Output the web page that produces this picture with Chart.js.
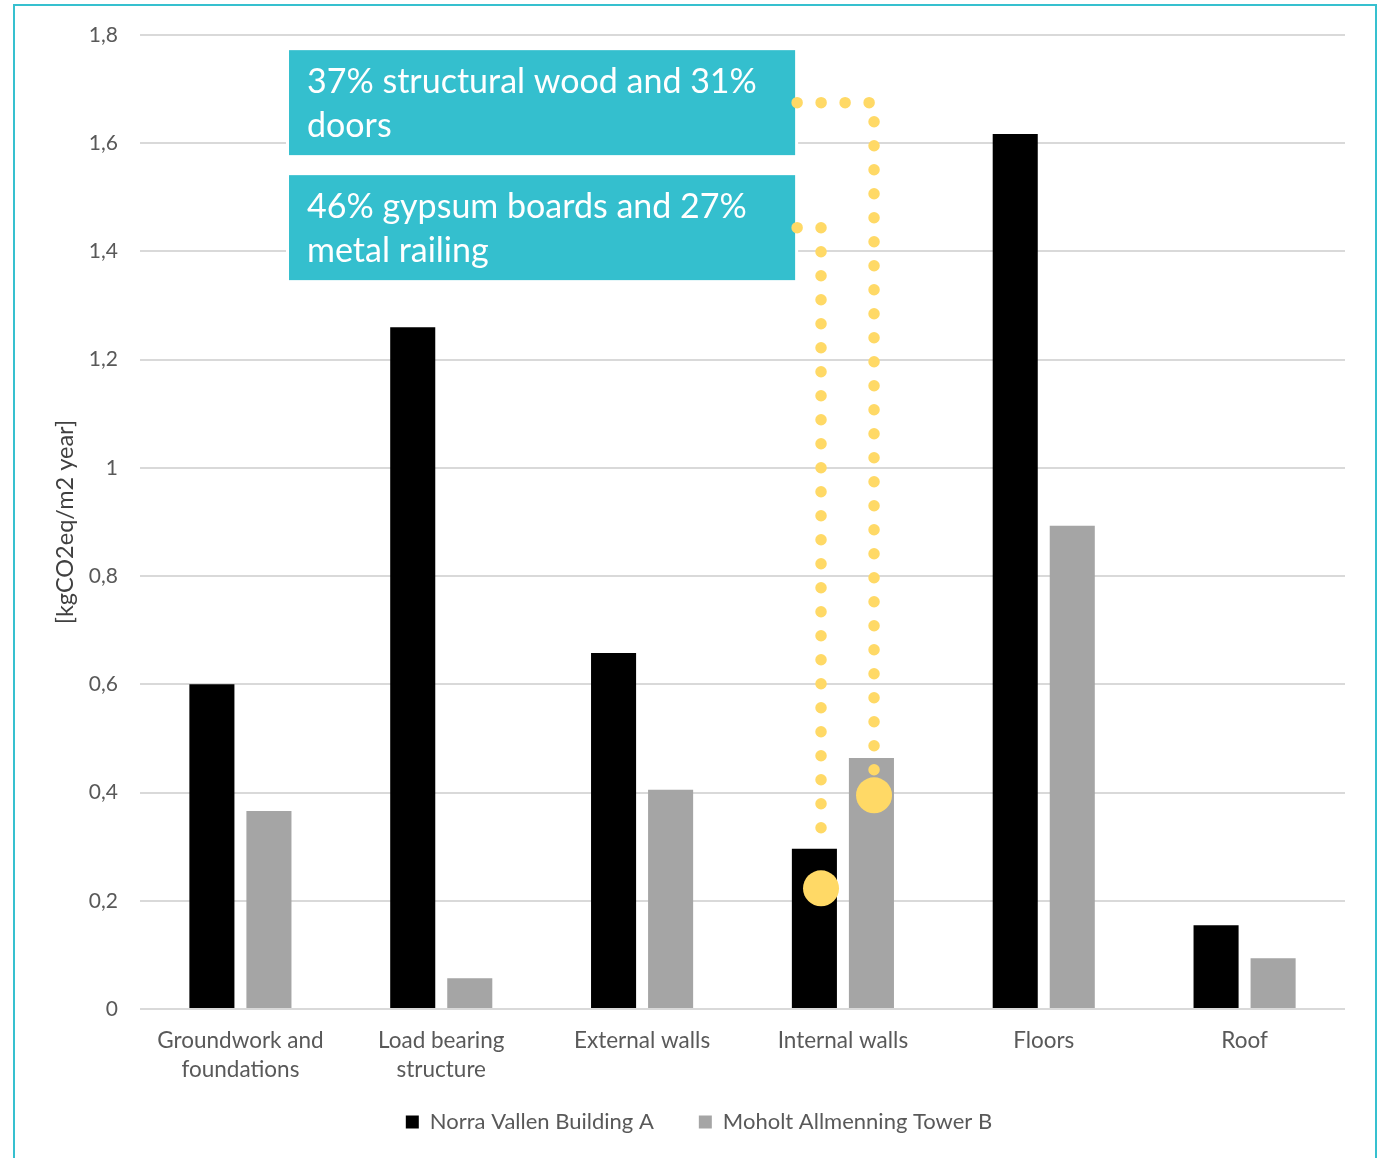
<!DOCTYPE html>
<html>
<head>
<meta charset="utf-8">
<script src="https://cdn.jsdelivr.net/npm/chart.js@4.4.0/dist/chart.umd.min.js"></script>
<style>
  html, body { margin: 0; padding: 0; background: #fff; }
  #wrap { position: relative; width: 1383px; height: 1158px; overflow: hidden; }
  #frame { position: absolute; left: 13px; top: 4px; width: 1360px; height: 1200px;
           border: 2px solid #36c0cf; border-bottom: none; pointer-events: none; }
</style>
</head>
<body>
<div id="wrap">
  <canvas id="chart" width="1383" height="1158"></canvas>
  <div id="frame"></div>
</div>
<script>
const categories = [["Groundwork and", "foundations"], ["Load bearing", "structure"], "External walls", "Internal walls", "Floors", "Roof"];
const norraVallen = [0.60, 1.26, 0.658, 0.296, 1.617, 0.155];
const moholtTower = [0.366, 0.057, 0.405, 0.464, 0.893, 0.094];
const yTickLabels = ["0", "0,2", "0,4", "0,6", "0,8", "1", "1,2", "1,4", "1,6", "1,8"];

// callout boxes, in category / value units
const calloutText = [
  ["37% structural wood and 31%", "doors"],
  ["46% gypsum boards and 27%", "metal railing"]
];
const calloutX = [0.242, 2.762];
const calloutY = [[1.772, 1.578], [1.541, 1.347]];
// dotted leaders: x of the drop, where the dots stop, where the big marker sits
const leaderX = [3.155, 2.891];
const leaderEnd = [0.44, 0.292];
const markerValue = [0.395, 0.223];

const FONT = "Lato, 'Open Sans', sans-serif";
const YELLOW = "#ffd966";

const calloutPlugin = {
  id: "callouts",
  afterLayout(chart) {
    // x labels wrap onto two lines; let them draw below the (short) axis box
    chart.scales.x.bottom += 30;
  },
  afterDatasetsDraw(chart) {
    const { ctx, scales: { x, y } } = chart;
    const left = x.getPixelForValue(calloutX[0]);
    const right = x.getPixelForValue(calloutX[1]);
    ctx.save();
    calloutText.forEach((lines, i) => {
      const top = y.getPixelForValue(calloutY[i][0]);
      const bottom = y.getPixelForValue(calloutY[i][1]);
      ctx.fillStyle = "#fff";
      ctx.fillRect(left - 3, top - 3, right - left + 6, bottom - top + 6);
      ctx.fillStyle = "#34bfce";
      ctx.fillRect(left, top, right - left, bottom - top);
      ctx.fillStyle = "#fff";
      ctx.font = "34px " + FONT;
      ctx.textBaseline = "middle";
      lines.forEach((t, k) => ctx.fillText(t, left + 18, top + 32 + k * 44));
    });
    calloutText.forEach((lines, i) => {
      const midY = (y.getPixelForValue(calloutY[i][0]) + y.getPixelForValue(calloutY[i][1])) / 2;
      const dropX = x.getPixelForValue(leaderX[i]);
      ctx.strokeStyle = YELLOW;
      ctx.lineWidth = 11.5;
      ctx.lineCap = "round";
      ctx.lineJoin = "round";
      ctx.setLineDash([0, 24]);
      ctx.beginPath();
      ctx.moveTo(right + 2, midY);
      ctx.lineTo(dropX, midY);
      ctx.lineTo(dropX, y.getPixelForValue(leaderEnd[i]));
      ctx.stroke();
      ctx.setLineDash([]);
      ctx.fillStyle = YELLOW;
      ctx.beginPath();
      ctx.arc(dropX, y.getPixelForValue(markerValue[i]), 18, 0, Math.PI * 2);
      ctx.fill();
    });
    ctx.restore();
  }
};

new Chart(document.getElementById("chart"), {
  type: "bar",
  data: {
    labels: categories,
    datasets: [
      { label: "Norra Vallen Building A", data: norraVallen, backgroundColor: "#000000" },
      { label: "Moholt Allmenning Tower B", data: moholtTower, backgroundColor: "#a5a5a5" }
    ]
  },
  options: {
    responsive: false,
    animation: false,
    categoryPercentage: 0.568,
    barPercentage: 0.79,
    layout: { padding: { left: 53, right: 38, top: 35, bottom: 15 } },
    plugins: {
      legend: {
        position: "bottom",
        labels: {
          boxWidth: 13, boxHeight: 13, padding: 45,
          color: "#595959", font: { family: FONT, size: 22 }
        }
      },
      tooltip: { enabled: false }
    },
    scales: {
      x: {
        grid: { display: false },
        border: { display: false },
        ticks: {
          color: "#595959", padding: 9, maxRotation: 0, autoSkip: false,
          font: { family: FONT, size: 22.5, lineHeight: 1.3 }
        },
        afterFit(s) { s.height = 57; }
      },
      y: {
        min: 0, max: 1.8,
        ticks: {
          stepSize: 0.2, padding: 22, color: "#595959",
          font: { family: FONT, size: 21 },
          callback: (v, i) => yTickLabels[i]
        },
        grid: { color: "#d9d9d9", lineWidth: 2, drawTicks: false },
        border: { display: false },
        title: {
          display: true, text: "[kgCO2eq/m2 year]", color: "#404040",
          font: { family: FONT, size: 23.5 }, padding: { top: -2 }
        },
        afterFit(s) { s.width = 87; }
      }
    }
  },
  plugins: [calloutPlugin]
});
</script>
</body>
</html>
